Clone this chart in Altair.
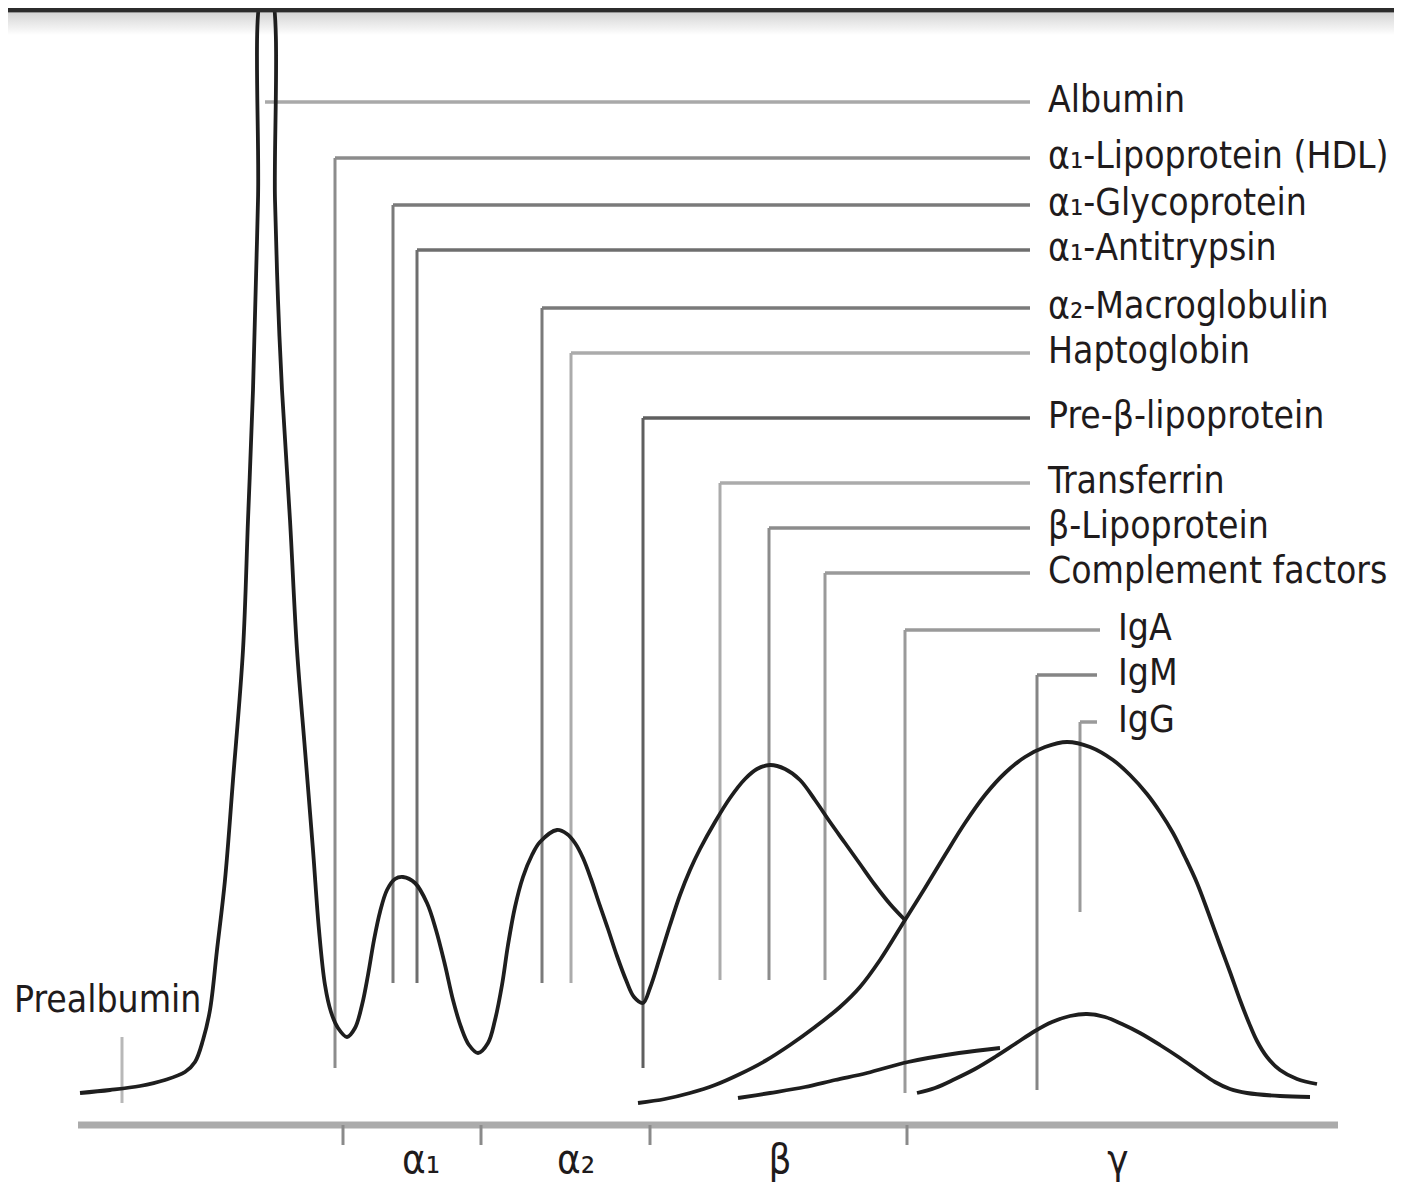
import altair as alt
import pandas as pd

# ---------------- data ----------------
# x = electrophoretic position, y = relative staining intensity above the baseline
main_x = [80, 110, 140, 165, 185, 195, 203, 210, 217, 225, 233, 243, 248, 253, 258, 263,
          270, 275, 278, 282, 290, 297, 305, 313, 319, 325, 331, 338, 347, 355, 362, 368,
          374, 380, 387, 395, 403, 415, 427, 436, 445, 453, 461, 469, 478, 488, 495, 502,
          508, 515, 523, 532, 540, 557, 567, 575, 583, 591, 599, 608, 617, 626, 634, 643,
          650, 660, 670, 680, 690, 700, 715, 730, 745, 757, 770, 785, 800, 815, 830, 845,
          860, 875, 890, 905]
main_y = [32, 35, 39, 45, 53, 63, 85, 115, 175, 245, 345, 475, 605, 735, 925, 1135,
          1135, 925, 825, 735, 605, 475, 375, 275, 195, 140, 113, 97, 88, 97, 120, 150,
          185, 213, 235, 246, 248, 242, 222, 195, 160, 125, 98, 80, 72, 82, 105, 140,
          180, 218, 248, 270, 283, 295, 291, 282, 267, 246, 222, 196, 169, 145, 128, 122,
          137, 168, 200, 230, 255, 276, 303, 327, 346, 356, 360, 356, 345, 325, 303, 282,
          261, 240, 221, 205]

gamma_x = [638, 665, 690, 715, 740, 765, 790, 815, 840, 860, 880, 905, 925, 945, 965, 985,
           1005, 1025, 1045, 1067, 1090, 1113, 1130, 1147, 1160, 1173, 1185, 1197, 1208, 1220,
           1230, 1240, 1249, 1257, 1267, 1280, 1297, 1317]
gamma_y = [22, 26, 32, 40, 51, 64, 80, 98, 118, 138, 165, 205, 237, 270, 302, 330,
           352, 368, 378, 383, 378, 365, 350, 331, 313, 292, 268, 242, 213, 180,
           153, 125, 102, 84, 68, 55, 46, 41]

iga_x = [738, 770, 805, 835, 867, 908, 959, 1000]
iga_y = [27, 32, 38, 45, 52, 63, 72, 77]

igm_x = [917, 935, 955, 975, 995, 1015, 1035, 1052, 1070, 1087, 1105, 1122, 1140, 1160,
         1180, 1200, 1215, 1230, 1247, 1280, 1310]
igm_y = [32, 37, 46, 56, 68, 81, 94, 103, 109, 111, 108, 101, 92, 80,
         67, 53, 43, 36, 32, 29, 28]

protein_labels = ["Albumin", "α₁-Lipoprotein (HDL)", "α₁-Glycoprotein", "α₁-Antitrypsin",
                  "α₂-Macroglobulin", "Haptoglobin", "Pre-β-lipoprotein", "Transferrin",
                  "β-Lipoprotein", "Complement factors", "IgA", "IgM", "IgG"]
protein_pos = [265, 335, 393, 417, 542, 571, 643, 720, 769, 825, 905, 1037, 1080]
protein_level = [1023, 967, 920, 875, 817, 772, 707, 642, 597, 552, 495, 450, 403]
protein_foot = [1023, 57, 142, 142, 142, 142, 57, 145, 145, 145, 32, 35, 213]
leader_end = [1030, 1030, 1030, 1030, 1030, 1030, 1030, 1030, 1030, 1030, 1100, 1097, 1097]
label_pos = [1048, 1048, 1048, 1048, 1048, 1048, 1048, 1048, 1048, 1048, 1118, 1118, 1118]

prealbumin_label = "Prealbumin"
prealbumin_pos = 122
prealbumin_range = [22, 88]
prealbumin_text_at = [14, 113]

fraction_labels = ["α₁", "α₂", "β", "γ"]
fraction_centers = [421, 576, 780, 1118]
fraction_bounds = [343, 481, 650, 907]
baseline_span = [78, 1338]

# ---------------- styles ----------------
FONT = "DejaVu Sans Condensed, Liberation Sans Narrow, sans-serif"
FONT_SIZE = 37
TEXT_COLOR = "#1f1b1c"
CURVE_COLOR = "#1e1e1e"
LEADER_GRAYS = ["#a9a9a9", "#8c8c8c", "#7a7a7a", "#6e6e6e", "#7a7a7a", "#ababab", "#5f5f5f",
                "#ababab", "#8c8c8c", "#9a9a9a", "#9a9a9a", "#858585", "#9a9a9a"]

X_SCALE = alt.Scale(domain=[8, 1394], nice=False, zero=False)
Y_SCALE = alt.Scale(domain=[-57, 1117], nice=False, zero=False)


def X(field):
    return alt.X(field, type="quantitative", scale=X_SCALE, axis=None)


def Y(field):
    return alt.Y(field, type="quantitative", scale=Y_SCALE, axis=None)


# curves table
rows = []
for name, xs, ys in [("main", main_x, main_y), ("gamma", gamma_x, gamma_y),
                     ("IgA", iga_x, iga_y), ("IgM", igm_x, igm_y)]:
    for i, (a, b) in enumerate(zip(xs, ys)):
        rows.append({"series": name, "x": a, "y": b, "i": i})
curves = pd.DataFrame(rows)

leaders = pd.DataFrame({
    "label": protein_labels, "x": protein_pos, "level": protein_level,
    "foot": protein_foot, "xend": leader_end, "lx": label_pos, "gray": LEADER_GRAYS,
})

frame = pd.DataFrame({"x": [8], "x2": [1394], "y": [1115]})
shade = pd.DataFrame({"x": [8], "x2": [1394], "y": [1112], "y2": [1090]})

shade_layer = alt.Chart(shade).mark_rect(
    color=alt.Gradient(gradient="linear",
                       stops=[alt.GradientStop(color="#d6d6d6", offset=0),
                              alt.GradientStop(color="#f2f2f2", offset=0.7),
                              alt.GradientStop(color="#ffffff", offset=1)],
                       x1=0, x2=0, y1=0, y2=1)
).encode(x=X("x"), x2="x2", y=Y("y"), y2="y2")

frame_layer = alt.Chart(frame).mark_rule(color="#2c2c2c", strokeWidth=5).encode(
    x=X("x"), x2="x2", y=Y("y"))

vert_layer = alt.Chart(leaders).mark_rule(strokeWidth=3).encode(
    x=X("x"), y=Y("level"), y2="foot", color=alt.Color("gray:N", scale=None))

horiz_layer = alt.Chart(leaders).mark_rule(strokeWidth=3.5).encode(
    x=X("x"), x2="xend", y=Y("level"), color=alt.Color("gray:N", scale=None))

pre_tick = alt.Chart(pd.DataFrame({"x": [prealbumin_pos], "y": [prealbumin_range[0]],
                                   "y2": [prealbumin_range[1]]})).mark_rule(
    color="#b8b8b8", strokeWidth=3).encode(x=X("x"), y=Y("y"), y2="y2")

axis_df = pd.DataFrame({"x": [baseline_span[0]], "x2": [baseline_span[1]], "y": [0]})
axis_layer = alt.Chart(axis_df).mark_rule(color="#ababab", strokeWidth=7).encode(
    x=X("x"), x2="x2", y=Y("y"))

ticks_df = pd.DataFrame({"x": fraction_bounds, "y": [0] * 4, "y2": [-20] * 4})
ticks_layer = alt.Chart(ticks_df).mark_rule(color="#8a8a8a", strokeWidth=3).encode(
    x=X("x"), y=Y("y"), y2="y2")

curve_layer = alt.Chart(curves).mark_line(
    interpolate="catmull-rom", strokeWidth=3.8, color=CURVE_COLOR, strokeJoin="round",
    clip=True
).encode(x=X("x"), y=Y("y"), detail="series:N", order="i:Q")

label_layer = alt.Chart(leaders).mark_text(
    align="left", baseline="alphabetic", dy=10, font=FONT, fontSize=FONT_SIZE, color=TEXT_COLOR
).encode(x=X("lx"), y=Y("level"), text="label:N")

pre_label = alt.Chart(pd.DataFrame({"x": [prealbumin_text_at[0]], "y": [prealbumin_text_at[1]],
                                    "t": [prealbumin_label]})).mark_text(
    align="left", baseline="alphabetic", font=FONT, fontSize=FONT_SIZE, color=TEXT_COLOR
).encode(x=X("x"), y=Y("y"), text="t:N")

frac_df = pd.DataFrame({"x": fraction_centers, "y": [-48] * 4, "t": fraction_labels})
frac_layer = alt.Chart(frac_df).mark_text(
    align="center", baseline="alphabetic", font=FONT, fontSize=40, color=TEXT_COLOR
).encode(x=X("x"), y=Y("y"), text="t:N")

chart = alt.layer(
    shade_layer, vert_layer, horiz_layer, pre_tick, axis_layer, ticks_layer,
    curve_layer, frame_layer, label_layer, pre_label, frac_layer
).properties(
    width=1386, height=1174,
    autosize=alt.AutoSizeParams(type="none"),
    padding=0, background="white"
).configure_view(stroke=None)

chart.save("out.html", embed_options={"renderer": "svg", "actions": False})
